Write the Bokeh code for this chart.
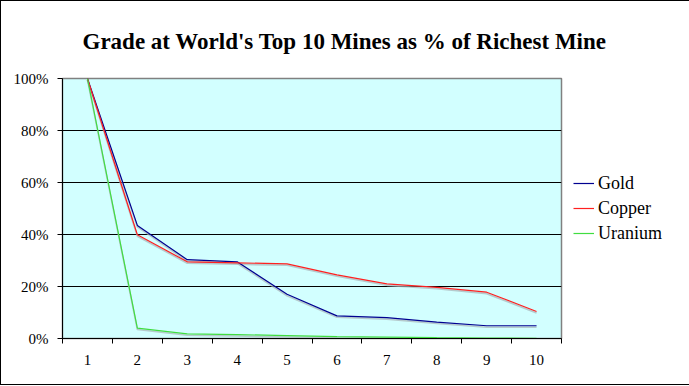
from bokeh.plotting import figure
from bokeh.models import (FixedTicker, PrintfTickFormatter, Legend, LegendItem,
                          ColumnDataSource)
from bokeh.transform import dodge
from bokeh.embed import file_html
from bokeh.resources import INLINE

ranks = [1, 2, 3, 4, 5, 6, 7, 8, 9, 10]
gold = [100, 43.5, 30.3, 29.5, 17.0, 8.7, 8.0, 6.3, 4.9, 4.9]
copper = [100, 39.9, 29.5, 29.1, 28.7, 24.5, 21.0, 19.7, 17.8, 10.4]
uranium = [100, 4.0, 1.8, 1.5, 1.1, 0.7, 0.5, 0.3, 0.2, 0.1]
y_ticks = [0, 20, 40, 60, 80, 100]
title_text = "Grade at World's Top 10 Mines as % of Richest Mine"

SERIF = "Liberation Serif"

p = figure(frame_width=499, frame_height=260, output_backend="svg", toolbar_location=None,
           x_range=(0.5, 10.5), y_range=(0, 100), title=title_text)
p.styles = {"border": "1px solid black"}
p.min_border_left = 61
p.min_border_right = 127
p.min_border_top = 77
p.min_border_bottom = 46
p.background_fill_color = "#D2FFFF"
p.border_fill_color = "white"
p.outline_line_color = "#808080"
p.outline_line_width = 1.5

p.title.text_font = SERIF
p.title.text_font_size = "23px"
p.title.text_font_style = "bold"
p.title.text_color = "black"
p.title.align = "left"
p.title.offset = 20
p.title.standoff = 50

src = ColumnDataSource(dict(x=ranks, gold=gold, copper=copper, uranium=uranium))

series = [("Gold", "gold", "#000090"), ("Copper", "copper", "#FF2020"),
          ("Uranium", "uranium", "#40DD40")]
items = []
for name, col, color in series:
    p.line(x="x", y=dodge(col, -0.55, range=p.y_range), source=src,
           line_color="#A8B4B8", line_width=1.6, line_alpha=0.7)
for name, col, color in series:
    r = p.line(x="x", y=col, source=src, line_color=color, line_width=1.2)
    items.append(LegendItem(label=name, renderers=[r]))

legend = Legend(items=items, location="center_left")
legend.border_line_color = None
legend.background_fill_alpha = 0
legend.label_text_font = SERIF
legend.label_text_font_size = "18px"
legend.label_text_color = "black"
legend.glyph_width = 21
legend.glyph_height = 22
legend.label_height = 22
legend.spacing = 3
legend.label_standoff = 4
legend.margin = 12
legend.padding = 10
p.add_layout(legend, "right")

# x axis
p.xaxis.ticker = FixedTicker(ticks=ranks, minor_ticks=[r - 0.5 for r in ranks] + [10.5])
p.xaxis.major_tick_line_color = None
p.xaxis.minor_tick_line_color = "black"
p.xaxis.minor_tick_out = 5
p.xaxis.minor_tick_in = 0
p.xaxis.axis_line_color = "black"
p.xaxis.major_label_text_font = SERIF
p.xaxis.major_label_text_font_size = "15px"
p.xaxis.major_label_text_color = "black"
p.xaxis.major_label_standoff = 10
p.xgrid.grid_line_color = None

# y axis
p.yaxis.ticker = FixedTicker(ticks=y_ticks)
p.yaxis.formatter = PrintfTickFormatter(format="%d%%")
p.yaxis.minor_tick_line_color = None
p.yaxis.major_tick_out = 5
p.yaxis.major_tick_in = 0
p.yaxis.axis_line_color = "black"
p.yaxis.major_label_text_font = SERIF
p.yaxis.major_label_text_font_size = "15px"
p.yaxis.major_label_text_color = "black"
p.yaxis.major_label_standoff = 9
p.ygrid.ticker = FixedTicker(ticks=[20, 40, 60, 80])
p.ygrid.grid_line_color = "black"
p.ygrid.grid_line_width = 1.2

open("out.html", "w").write(file_html(p, INLINE))
